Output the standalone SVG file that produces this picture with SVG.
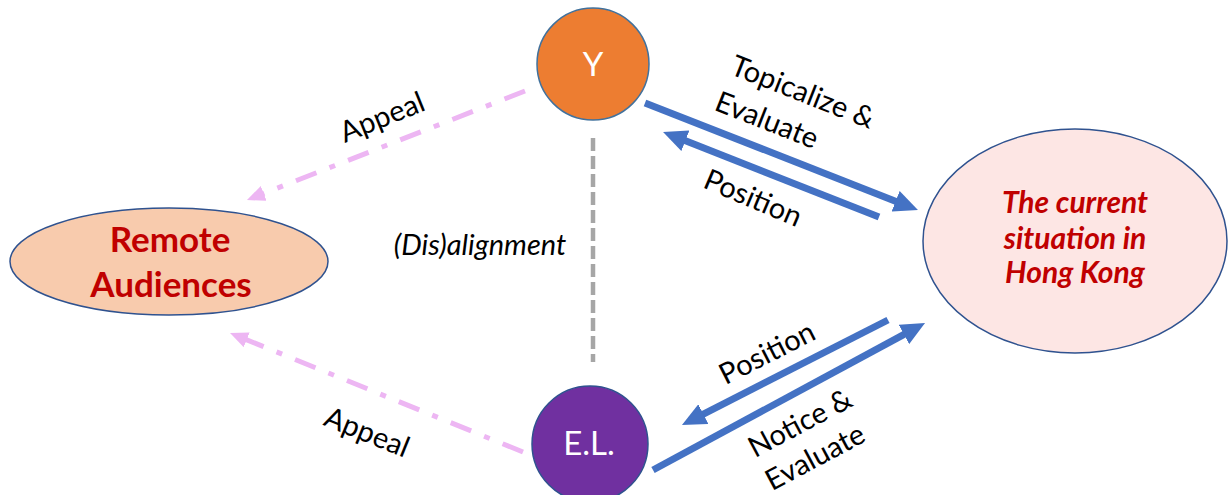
<svg xmlns="http://www.w3.org/2000/svg" width="1231" height="495" viewBox="0 0 1231 495">
  <style>
    .lbl { font-family: Lato, "Liberation Sans", sans-serif; font-size: 29px; fill: #000; text-anchor: middle; }
    .node-title { font-family: Lato, "Liberation Sans", sans-serif; font-weight: bold; fill: #C00000; text-anchor: middle; }
    .circle-txt { font-family: Lato, "Liberation Sans", sans-serif; font-size: 33px; fill: #fff; text-anchor: middle; }
    .blue { stroke: #4472C4; stroke-width: 7; fill: none; }
    .pink { stroke: #EDB6F3; stroke-width: 5; fill: none; stroke-dasharray: 22 14 6 14; }
    .grey { stroke: #A6A6A6; stroke-width: 4.5; fill: none; stroke-dasharray: 13 5; }
  </style>
  <defs>
    <marker id="blueHead" viewBox="0 0 24 22" markerWidth="24" markerHeight="22" refX="6" refY="11" orient="auto" markerUnits="userSpaceOnUse">
      <path d="M0,0 L24,11 L0,22 z" fill="#4472C4"/>
    </marker>
    <marker id="pinkHead" viewBox="0 0 18 16" markerWidth="18" markerHeight="16" refX="4" refY="8" orient="auto" markerUnits="userSpaceOnUse">
      <path d="M0,0 L18,8 L0,16 z" fill="#EDB6F3"/>
    </marker>
  </defs>

  <rect width="1231" height="495" fill="#fff"/>

  <!-- connectors -->
  <g id="connectors">
    <line class="grey" x1="593" y1="138" x2="593" y2="362"/>
    <line class="pink" x1="525" y1="91" x2="260" y2="194.9" marker-end="url(#pinkHead)"/>
    <line class="pink" x1="523" y1="452" x2="243" y2="338.3" marker-end="url(#pinkHead)"/>
    <line class="blue" x1="645" y1="103" x2="901.2" y2="203.4" marker-end="url(#blueHead)"/>
    <line class="blue" x1="879" y1="217" x2="679.8" y2="138.6" marker-end="url(#blueHead)"/>
    <line class="blue" x1="888" y1="320" x2="698" y2="416.8" marker-end="url(#blueHead)"/>
    <line class="blue" x1="653" y1="470" x2="909.2" y2="331.6" marker-end="url(#blueHead)"/>

    <text class="lbl" transform="translate(382,117) rotate(-22)" y="10">Appeal</text>
    <text class="lbl" transform="translate(367,432) rotate(22)" y="10">Appeal</text>
    <text class="lbl" transform="translate(803,92) rotate(21.5)" y="10">Topicalize &amp;</text>
    <text class="lbl" transform="translate(767,120) rotate(21.5)" y="10">Evaluate</text>
    <text class="lbl" transform="translate(753,198) rotate(23)" y="10">Position</text>
    <text class="lbl" transform="translate(767,353) rotate(-27)" y="10">Position</text>
    <text class="lbl" transform="translate(800,423) rotate(-28)" y="10">Notice &amp;</text>
    <text class="lbl" transform="translate(815,457) rotate(-28)" y="10">Evaluate</text>
    <text class="lbl" x="480" y="255" font-style="italic" font-size="34">(Dis)alignment</text>
  </g>

  <g id="node-y">
    <circle cx="593" cy="64" r="56" fill="#ED7D31" stroke="#41719C" stroke-width="1.5"/>
    <text class="circle-txt" x="593" y="76">Y</text>
  </g>

  <g id="node-el">
    <circle cx="590" cy="444" r="58" fill="#7030A0" stroke="#2F528F" stroke-width="1.5"/>
    <text class="circle-txt" x="589" y="455">E.L.</text>
  </g>

  <g id="node-remote-audiences">
    <ellipse cx="169" cy="261.5" rx="159" ry="53.5" fill="#F8CBAD" stroke="#2F528F" stroke-width="1.5"/>
    <text class="node-title" x="170" y="252" font-size="35">Remote</text>
    <text class="node-title" x="171" y="297" font-size="35">Audiences</text>
  </g>

  <g id="node-hong-kong">
    <ellipse cx="1075" cy="241" rx="152" ry="112" fill="#FDE6E4" stroke="#2F528F" stroke-width="1.5"/>
    <text class="node-title" x="1075" y="213" font-size="30" font-style="italic">The current</text>
    <text class="node-title" x="1075" y="249" font-size="30" font-style="italic">situation in</text>
    <text class="node-title" x="1075" y="283" font-size="30" font-style="italic">Hong Kong</text>
  </g>
</svg>
